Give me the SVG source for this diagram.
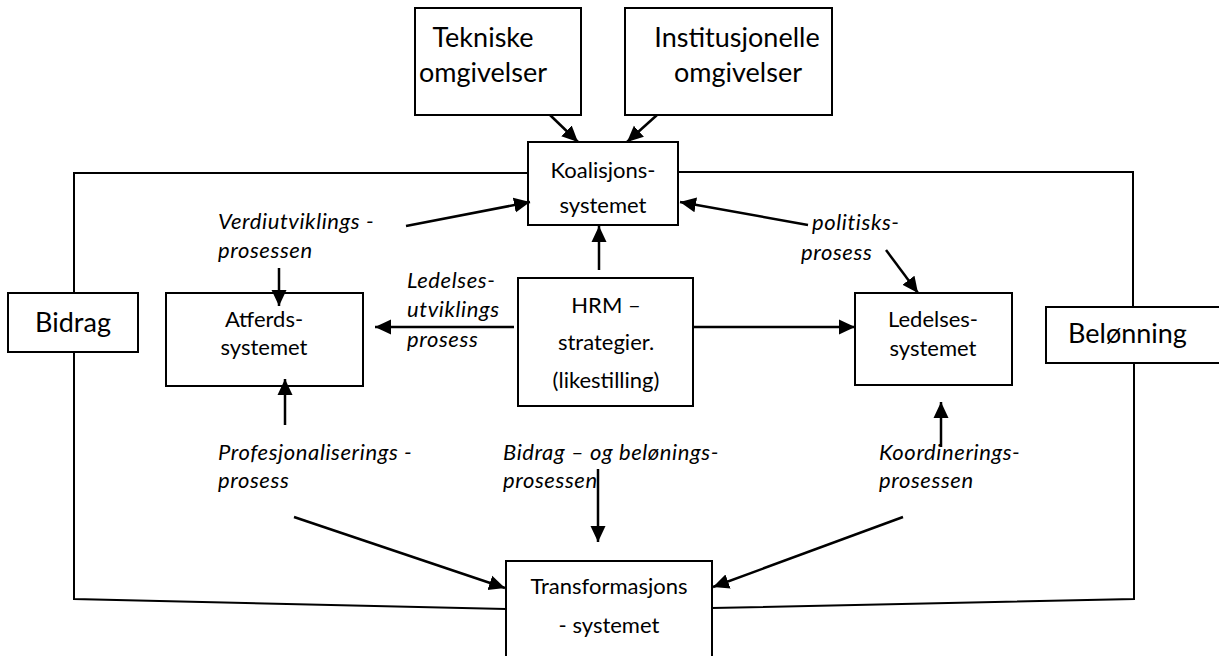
<svg xmlns="http://www.w3.org/2000/svg" width="1219" height="656" viewBox="0 0 1219 656">
<style>
.box{fill:#fff;stroke:#000;stroke-width:2}
.big{font-family:Lato,"Liberation Sans",sans-serif;font-size:27px;fill:#000}
.mid{font-family:Lato,"Liberation Sans",sans-serif;font-size:22px;fill:#000;text-anchor:middle}
.lbl{font-family:Lato,"Liberation Sans",sans-serif;font-size:22px;font-style:italic;letter-spacing:0.6px;fill:#000}
.arr{stroke:#000;stroke-width:2.5;fill:none;marker-end:url(#ah)}
.loop{stroke:#000;stroke-width:2;fill:none}
</style>
<defs>
<marker id="ah" markerUnits="userSpaceOnUse" markerWidth="16" markerHeight="16" refX="16" refY="7.5" orient="auto" viewBox="0 0 16 15">
<path d="M0,0 L16,7.5 L0,15 z" fill="#000"/>
</marker>
</defs>
<rect width="1219" height="656" fill="#fff"/>
<g id="tekniske">
<rect class="box" x="415" y="8" width="166" height="107"/>
<text class="big" x="483" y="47" text-anchor="middle">Tekniske</text>
<text class="big" x="483" y="82" text-anchor="middle">omgivelser</text>
</g>
<g id="institusjonelle">
<rect class="box" x="625" y="8" width="207" height="107"/>
<text class="big" x="737" y="47" text-anchor="middle">Institusjonelle</text>
<text class="big" x="738" y="82" text-anchor="middle">omgivelser</text>
</g>
<g id="koalisjons">
<rect class="box" x="528" y="142" width="150" height="83"/>
<text class="mid" x="603" y="178">Koalisjons-</text>
<text class="mid" x="603" y="213">systemet</text>
</g>
<g id="bidrag">
<rect class="box" x="8" y="293" width="130" height="59"/>
<text class="big" x="73" y="332" text-anchor="middle">Bidrag</text>
</g>
<g id="atferds">
<rect class="box" x="166" y="293" width="197" height="93"/>
<text class="mid" x="264" y="327">Atferds-</text>
<text class="mid" x="264" y="355">systemet</text>
</g>
<g id="hrm">
<rect class="box" x="518" y="278" width="175" height="128"/>
<text class="mid" x="606" y="313">HRM –</text>
<text class="mid" x="606" y="350">strategier.</text>
<text class="mid" x="606" y="388">(likestilling)</text>
</g>
<g id="ledelses">
<rect class="box" x="855" y="293" width="157" height="92"/>
<text class="mid" x="933" y="327">Ledelses-</text>
<text class="mid" x="933" y="356">systemet</text>
</g>
<g id="belonning">
<rect class="box" x="1046" y="307" width="190" height="56"/>
<text class="big" x="1068" y="343">Belønning</text>
</g>
<g id="transformasjons">
<rect class="box" x="506" y="561" width="206" height="110"/>
<text class="mid" x="609" y="594">Transformasjons</text>
<text class="mid" x="609" y="633">- systemet</text>
</g>
<g id="labels">
<text class="lbl" x="218" y="229">Verdiutviklings -</text>
<text class="lbl" x="218" y="258">prosessen</text>
<text class="lbl" x="407" y="288">Ledelses-</text>
<text class="lbl" x="407" y="317">utviklings</text>
<text class="lbl" x="407" y="347">prosess</text>
<text class="lbl" x="812" y="230">politisks-</text>
<text class="lbl" x="801" y="260">prosess</text>
<text class="lbl" x="218" y="460">Profesjonaliserings -</text>
<text class="lbl" x="218" y="488">prosess</text>
<text class="lbl" x="503" y="460">Bidrag – og belønings-</text>
<text class="lbl" x="503" y="488">prosessen</text>
<text class="lbl" x="879" y="460">Koordinerings-</text>
<text class="lbl" x="879" y="488">prosessen</text>
</g>
<g id="connectors">
<polyline class="loop" points="74,293 74,173 528,173"/>
<polyline class="loop" points="678,172 1133,172 1133,307"/>
<polyline class="loop" points="1134,363 1134,599 712,608"/>
<polyline class="loop" points="506,609 74,599 74,352"/>
<line class="arr" x1="550" y1="115" x2="578" y2="142"/>
<line class="arr" x1="657" y1="115" x2="627" y2="142"/>
<line class="arr" x1="406" y1="226" x2="530" y2="202"/>
<line class="arr" x1="808" y1="225" x2="680" y2="202"/>
<line class="arr" x1="886" y1="250" x2="918" y2="293"/>
<line class="arr" x1="599" y1="270" x2="599" y2="226"/>
<line class="arr" x1="279" y1="268" x2="279" y2="306"/>
<line class="arr" x1="514" y1="327" x2="375" y2="327"/>
<line class="arr" x1="694" y1="327" x2="855" y2="327"/>
<line class="arr" x1="285" y1="425" x2="285" y2="379"/>
<line class="arr" x1="941" y1="447" x2="941" y2="402"/>
<line class="arr" x1="598" y1="469" x2="598" y2="542"/>
<line class="arr" x1="294" y1="517" x2="505" y2="588"/>
<line class="arr" x1="903" y1="517" x2="713" y2="587"/>
</g>
</svg>
